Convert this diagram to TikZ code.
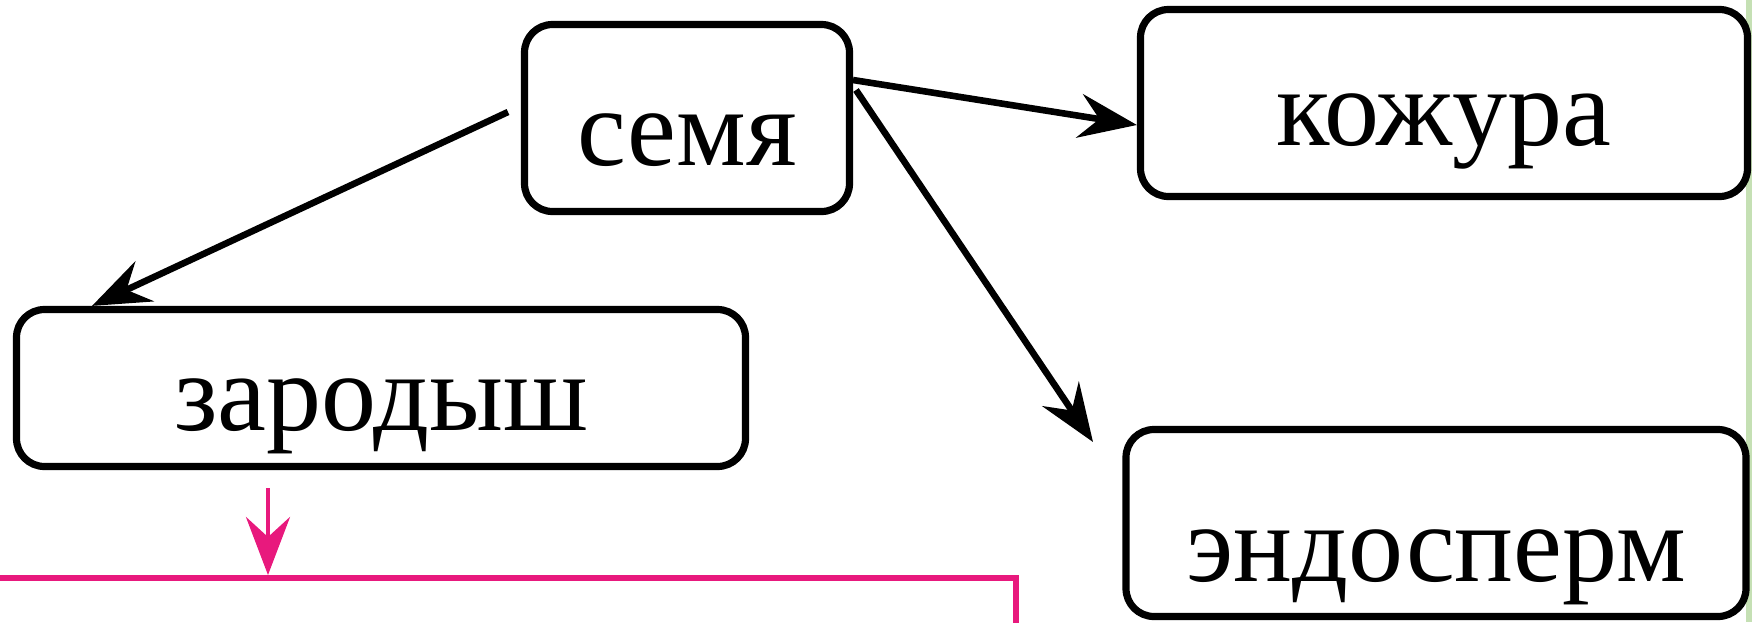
\documentclass[tikz,border=0pt]{standalone}
\usepackage{fontspec}
\setmainfont{Liberation Serif}
\usetikzlibrary{arrows.meta}
\usetikzlibrary{positioning}
\definecolor{stripgreen}{HTML}{C5E0B4}
\definecolor{linkpink}{HTML}{E8197D}
\tikzset{
part/.style={ % Sets the properties for each box
draw,
line width=3.6pt,
rounded corners=14pt,
fill=white,
inner sep=0pt,
text depth=0pt,
font=\fontsize{55}{60}\selectfont},
every edge/.style={ % Sets the properties for each arrow
draw,
line width=3.3pt,
-{Stealth[length=29pt, width=22pt, inset=10pt]}},
pinkline/.style={draw=linkpink, line width=3pt}}

\begin{document}
\begin{tikzpicture}[x=0.5pt, y=-0.5pt]
	\useasboundingbox (0,0) rectangle (1752,622);
	\fill[stripgreen] (1746,0) rectangle (1752,622);
	\node[part, minimum width=162.5pt, minimum height=93.5pt, text height=47pt] (semya) at (687,118) {семя};
	\node[part, minimum width=303.5pt, minimum height=93.5pt, text height=42pt] (kozhura) at (1444,103) {кожура};
	\node[part, minimum width=364.5pt, minimum height=78.5pt, text height=42pt] (zarodysh) at (381,388) {зародыш};
	\node[part, minimum width=310pt, minimum height=93.5pt, text height=58pt] (endosperm) at (1436,523) {эндосперм};
	\node[pinkline, minimum width=608pt, minimum height=111pt] (nizh) at (408,689) {};
	\coordinate (z0) at (508,112);
	\coordinate (k0) at (853,80);
	\coordinate (e0) at (856,90);
	\coordinate (e1) at (1093,442);
	\coordinate (p0) at (268,488);
	\draw (z0) edge (zarodysh.north -| 92,0);
	\draw (k0) edge (kozhura.west |- 0,125);
	\draw (e0) edge (e1);
	\draw (p0) edge[linkpink, line width=2.4pt] (p0 |- nizh.north);
\end{tikzpicture}
\end{document}
